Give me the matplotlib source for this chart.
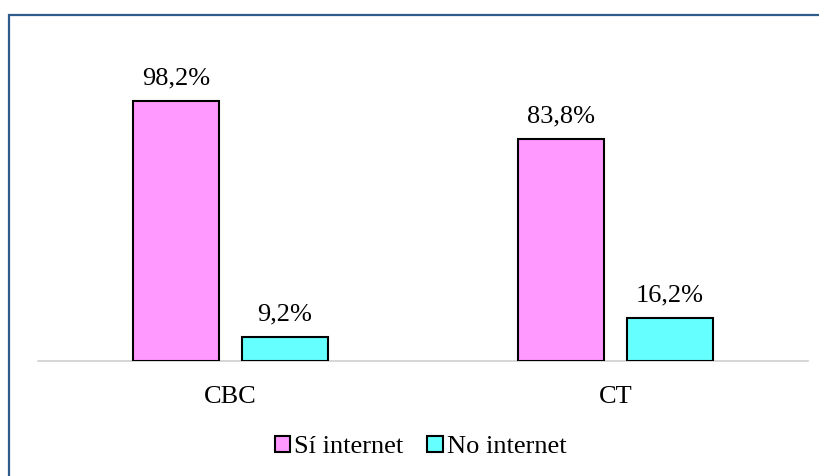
import matplotlib.pyplot as plt
from matplotlib.patches import Rectangle
import numpy as np

plt.rcParams['font.family'] = ['Liberation Serif', 'DejaVu Serif']

categories = ['CBC', 'CT']
si_internet = [98.2, 83.8]
no_internet = [9.2, 16.2]
series_names = ['Sí internet', 'No internet']
colors = ['#FF99FF', '#66FFFF']

fs = 19

fig = plt.figure(figsize=(8.2, 4.76), dpi=100)
ax = fig.add_axes([38 / 820, 1 - 361 / 476, 770 / 820, 318 / 476])

x = np.arange(len(categories))
width = 0.223
offset = 0.1415

bars1 = ax.bar(x - offset, si_internet, width, color=colors[0],
               edgecolor='black', linewidth=1.5, label=series_names[0], zorder=3)
bars2 = ax.bar(x + offset, no_internet, width, color=colors[1],
               edgecolor='black', linewidth=1.5, label=series_names[1], zorder=3)

for bars, vals in [(bars1, si_internet), (bars2, no_internet)]:
    for b, v in zip(bars, vals):
        ax.text(b.get_x() + b.get_width() / 2, v + 4.2,
                f'{v:.1f}'.replace('.', ',') + '%',
                ha='center', va='bottom', fontsize=fs)

ax.set_xlim(-0.5, 1.5)
ax.set_ylim(0, 120)
ax.set_yticks([])
ax.set_xticks(x)
ax.set_xticklabels(categories, fontsize=fs)
ax.tick_params(axis='x', length=0, pad=18)
for s in ['top', 'right', 'left']:
    ax.spines[s].set_visible(False)
ax.spines['bottom'].set_color('#D0D0D0')
ax.spines['bottom'].set_linewidth(1.2)

fig.legend(loc='center', bbox_to_anchor=(0.513, 1 - 447 / 476), ncol=2,
           frameon=False, fontsize=fs, handlelength=0.6, handleheight=0.6,
           handletextpad=0.15, columnspacing=0.9)

# chart border
fig.patches.append(Rectangle((9.5 / 820, -0.1), 1.0, 1 - 14.5 / 476 + 0.1,
                             transform=fig.transFigure, fill=False,
                             edgecolor='#2E5C8A', linewidth=1.6))

fig.savefig('out.png', dpi=100)
